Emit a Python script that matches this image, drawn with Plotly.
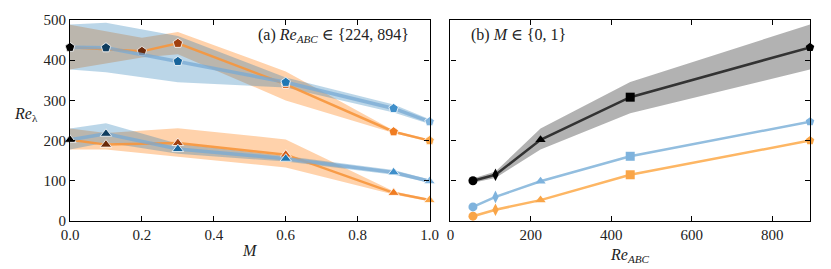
import plotly.graph_objects as go

# ---------------- data: panel (a) ----------------
# Re_ABC = 894 (pentagons)
M_hi_blue = [0.0, 0.1, 0.3, 0.6, 0.9, 1.0]
hi_blue = [432, 431, 397, 345, 280, 247]
hi_blue_lo = [377, 370, 345, 332, 270, 241]
hi_blue_up = [489, 493, 460, 357, 290, 253]

M_hi_orange = [0.0, 0.2, 0.3, 0.6, 0.9, 1.0]
hi_orange = [432, 422, 442, 340, 222, 200]
hi_orange_lo = [377, 407, 415, 300, 219, 197]
hi_orange_up = [488, 456, 470, 372, 225, 203]

# Re_ABC = 224 (triangles)
M_lo_blue = [0.0, 0.1, 0.3, 0.6, 0.9, 1.0]
lo_blue = [202, 217, 179, 155, 121, 99]
lo_blue_lo = [178, 195, 167, 148, 115, 95]
lo_blue_up = [230, 243, 192, 162, 127, 103]

M_lo_orange = [0.0, 0.1, 0.3, 0.6, 0.9, 1.0]
lo_orange = [202, 190, 194, 165, 70, 52]
lo_orange_lo = [178, 178, 160, 133, 66, 49]
lo_orange_up = [230, 219, 231, 203, 74, 55]

blue_marker_cols = ["#000000", "#0f3d5f", "#17649b", "#1f77b4", "#3f8fca", "#7fb3dd"]
orange_marker_cols_hi = ["#000000", "#6b2a0a", "#a0400f", "#d45c18", "#f07d22", "#f9a548"]
orange_marker_cols_lo = ["#000000", "#6b2a0a", "#a0400f", "#d45c18", "#f07d22", "#f9a548"]

# ---------------- data: panel (b) ----------------
Re_ABC = [56, 112, 224, 447, 894]
b_black = [100, 115, 202, 308, 432]
b_black_lo = [95, 107, 178, 268, 377]
b_black_up = [106, 123, 230, 346, 489]
b_blue = [35, 60, 99, 161, 247]
b_orange = [12, 28, 52, 115, 200]
b_symbols = ["circle", "diamond-tall", "triangle-up", "square", "pentagon"]

x_ticks_a = [0.0, 0.2, 0.4, 0.6, 0.8, 1.0]
x_ticklabels_a = ["0.0", "0.2", "0.4", "0.6", "0.8", "1.0"]
x_ticks_b = [0, 200, 400, 600, 800]
y_ticks = [0, 100, 200, 300, 400, 500]

FONT = "Liberation Serif, DejaVu Serif, serif"
BLUE_FILL = "rgba(31,119,180,0.3)"
ORANGE_FILL = "rgba(255,127,14,0.35)"
BLUE_LINE = "rgba(120,170,212,0.75)"
ORANGE_LINE = "rgba(247,150,60,0.9)"

fig = go.Figure()


def band(x, lo, up, color, xa, ya):
    fig.add_trace(go.Scatter(x=x, y=lo, mode="lines", line=dict(width=0),
                             hoverinfo="skip", showlegend=False, xaxis=xa, yaxis=ya))
    fig.add_trace(go.Scatter(x=x, y=up, mode="lines", line=dict(width=0), fill="tonexty",
                             fillcolor=color, hoverinfo="skip", showlegend=False,
                             xaxis=xa, yaxis=ya))


# bands panel (a)
band(M_hi_orange, hi_orange_lo, hi_orange_up, ORANGE_FILL, "x", "y")
band(M_lo_orange, lo_orange_lo, lo_orange_up, ORANGE_FILL, "x", "y")
band(M_hi_blue, hi_blue_lo, hi_blue_up, BLUE_FILL, "x", "y")
band(M_lo_blue, lo_blue_lo, lo_blue_up, BLUE_FILL, "x", "y")


def series(x, y, lcol, mcols, sym, lw, xa, ya, size=10):
    fig.add_trace(go.Scatter(x=x, y=y, mode="lines+markers",
                             line=dict(color=lcol, width=lw),
                             marker=dict(color=mcols, symbol=sym, size=size,
                                         line=dict(color="white", width=0.8)),
                             cliponaxis=False, showlegend=False, xaxis=xa, yaxis=ya))


series(M_hi_orange, hi_orange, ORANGE_LINE, orange_marker_cols_hi, "pentagon", 2.5, "x", "y")
series(M_lo_orange, lo_orange, ORANGE_LINE, orange_marker_cols_lo, "triangle-up", 2.5, "x", "y")
series(M_hi_blue, hi_blue, BLUE_LINE, blue_marker_cols, "pentagon", 3.5, "x", "y")
series(M_lo_blue, lo_blue, BLUE_LINE, blue_marker_cols, "triangle-up", 3.5, "x", "y")

# panel (b)
band(Re_ABC, b_black_lo, b_black_up, "rgba(0,0,0,0.3)", "x2", "y2")
fig.add_trace(go.Scatter(x=Re_ABC, y=b_orange, mode="lines+markers",
                         line=dict(color="#fdb664", width=2.5),
                         marker=dict(color="#f9a548", symbol=b_symbols, size=9),
                         cliponaxis=False, showlegend=False, xaxis="x2", yaxis="y2"))
fig.add_trace(go.Scatter(x=Re_ABC, y=b_blue, mode="lines+markers",
                         line=dict(color="#93bedf", width=2.5),
                         marker=dict(color="#7fb3dd", symbol=b_symbols, size=9),
                         cliponaxis=False, showlegend=False, xaxis="x2", yaxis="y2"))
fig.add_trace(go.Scatter(x=Re_ABC, y=b_black, mode="lines+markers",
                         line=dict(color="#333333", width=2.5),
                         marker=dict(color="#000000", symbol=b_symbols, size=9),
                         cliponaxis=False, showlegend=False, xaxis="x2", yaxis="y2"))

axis_common = dict(showline=True, linecolor="black", linewidth=1.2, mirror="allticks",
                   ticks="inside", ticklen=5, tickwidth=1.2, tickcolor="black",
                   showgrid=False, zeroline=False,
                   tickfont=dict(family=FONT, size=15, color="#222"))

w = 831.0
L, R = 70, 16
pw = w - L - R
fig.update_layout(
    width=831, height=269,
    margin=dict(l=L, r=R, t=17, b=48),
    paper_bgcolor="white", plot_bgcolor="white",
    font=dict(family=FONT, size=15, color="#222"),
    xaxis=dict(domain=[0, (432 - L) / pw], range=[0, 1], tickvals=x_ticks_a,
               ticktext=x_ticklabels_a, anchor="y", **axis_common),
    yaxis=dict(domain=[0, 1], range=[0, 500], tickvals=y_ticks, anchor="x", **axis_common),
    xaxis2=dict(domain=[(453 - L) / pw, 1], range=[0, 894], tickvals=x_ticks_b,
                anchor="y2", **axis_common),
    yaxis2=dict(domain=[0, 1], range=[0, 500], tickvals=y_ticks, showticklabels=False,
                anchor="x2", **axis_common),
)

ann_font = dict(family=FONT, size=16, color="#222")
fig.add_annotation(text="(a) <i>Re</i><sub><i>ABC</i></sub> ∈ {224, 894}", xref="x", yref="y",
                   x=(413 - 70) / 362, y=462, xanchor="right", yanchor="middle",
                   showarrow=False, font=ann_font)
fig.add_annotation(text="(b) <i>M</i> ∈ {0, 1}", xref="x2", yref="y2",
                   x=45, y=462, xanchor="left", yanchor="middle",
                   showarrow=False, font=ann_font)
fig.add_annotation(text="<i>Re</i><sub>λ</sub>", xref="paper", yref="paper",
                   x=-(L - 12) / pw, y=(221 - 113) / 204, xanchor="left", yanchor="middle",
                   showarrow=False, font=ann_font)
fig.add_annotation(text="<i>M</i>", xref="x", yref="paper",
                   x=0.5, y=-30 / 204, xanchor="center", yanchor="middle",
                   showarrow=False, font=ann_font)
fig.add_annotation(text="<i>Re</i><sub><i>ABC</i></sub>", xref="x2", yref="paper",
                   x=447, y=-47 / 204, xanchor="center", yanchor="bottom",
                   showarrow=False, font=ann_font)

fig.write_html("out.html", config={"displayModeBar": False},
               post_script="document.body.style.margin='0px';")
